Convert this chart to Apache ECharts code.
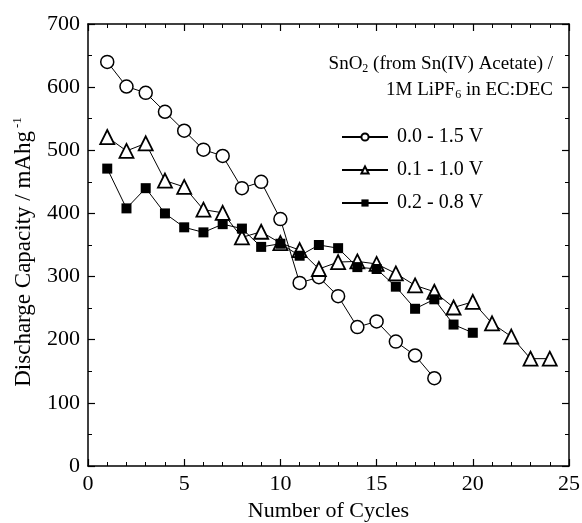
<!DOCTYPE html>
<html>
<head>
<meta charset="utf-8">
<script src="https://cdn.jsdelivr.net/npm/echarts@6/dist/echarts.min.js"></script>
<style>
  html, body { margin: 0; padding: 0; background: #fff; }
  #chart { width: 582px; height: 523px; }
</style>
</head>
<body>
<div id="chart"></div>
<script>
// cycle numbers
const cycles = [1,2,3,4,5,6,7,8,9,10,11,12,13,14,15,16,17,18,19,20,21,22,23,24];
// discharge capacity, mAh/g
const cap15 = [640,601,591,561,531,501,491,440,450,391,290,299,269,220,229,197,175,139];
const cap10 = [521,499,511,452,442,406,401,362,371,353,342,312,323,324,320,305,286,276,251,260,226,205,170,170];
const cap08 = [471,408,440,400,378,370,383,376,347,352,333,350,345,315,312,284,249,264,224,211];
const seriesNames = ['0.0 - 1.5 V', '0.1 - 1.0 V', '0.2 - 0.8 V'];

const font = 'Liberation Serif, Times New Roman, serif';

function pairs(vals) {
  return vals.map((v, i) => [cycles[i], v]);
}

const chart = echarts.init(document.getElementById('chart'));

function frameAxis(extra, minorSplit) {
  return Object.assign({
    type: 'value',
    axisLine: { show: true, onZero: false, lineStyle: { color: '#000', width: 1.5 } },
    axisTick: { show: true, inside: true, length: 7, lineStyle: { color: '#000', width: 1.2 } },
    minorTick: { show: true, splitNumber: minorSplit, length: 4, lineStyle: { color: '#000', width: 1 } },
    splitLine: { show: false }
  }, extra);
}

const subRich = { sub: { fontFamily: font, fontSize: 12, verticalAlign: 'bottom', padding: [10, 0, 0, 0] } };

chart.setOption({
  animation: false,
  backgroundColor: '#fff',
  title: [
    {
      text: 'SnO{sub|2} (from Sn(IV) Acetate) /',
      right: 24, top: 48,
      textStyle: { fontFamily: font, fontSize: 19, fontWeight: 'normal', color: '#000', rich: subRich }
    },
    {
      text: '1M LiPF{sub|6} in EC:DEC',
      right: 24, top: 74,
      textStyle: { fontFamily: font, fontSize: 19, fontWeight: 'normal', color: '#000', rich: subRich }
    }
  ],
  legend: {
    orient: 'vertical',
    left: 336, top: 122,
    itemWidth: 46, itemHeight: 9, itemGap: 13,
    textStyle: { fontFamily: font, fontSize: 20, color: '#000', padding: [0, 0, 0, 4] },
    data: seriesNames
  },
  grid: { left: 88, right: 13, top: 24, bottom: 57, outerBoundsMode: 'none' },
  xAxis: [
    frameAxis({
      min: 0, max: 25, interval: 5, position: 'bottom',
      axisLabel: { fontFamily: font, fontSize: 22, color: '#000', margin: 7 },
      name: 'Number of Cycles', nameLocation: 'middle', nameGap: 34,
      nameTextStyle: { fontFamily: font, fontSize: 22, color: '#000' }
    }, 5),
    frameAxis({ min: 0, max: 25, interval: 5, position: 'top', axisLabel: { show: false } }, 5)
  ],
  yAxis: [
    frameAxis({
      min: 0, max: 700, interval: 100, position: 'left',
      axisLabel: { fontFamily: font, fontSize: 22, color: '#000', margin: 8, padding: [0, 0, 6, 0] },
      name: 'Discharge Capacity / mAhg{sup|-1}', nameLocation: 'middle', nameGap: 52,
      nameTextStyle: {
        fontFamily: font, fontSize: 23, color: '#000', padding: [0, 14, 0, 0],
        rich: { sup: { fontFamily: font, fontSize: 13, verticalAlign: 'top', padding: [0, 0, 12, 3] } }
      }
    }, 2),
    frameAxis({ min: 0, max: 700, interval: 100, position: 'right', axisLabel: { show: false } }, 2)
  ],
  series: [
    {
      name: seriesNames[0], type: 'line', data: pairs(cap15),
      symbol: 'circle', symbolSize: 13,
      lineStyle: { color: '#000', width: 1 },
      itemStyle: { color: '#fff', borderColor: '#000', borderWidth: 1.5 }
    },
    {
      name: seriesNames[1], type: 'line', data: pairs(cap10),
      symbol: 'triangle', symbolSize: 14,
      lineStyle: { color: '#000', width: 1 },
      itemStyle: { color: '#fff', borderColor: '#000', borderWidth: 1.8 }
    },
    {
      name: seriesNames[2], type: 'line', data: pairs(cap08),
      symbol: 'rect', symbolSize: 10,
      lineStyle: { color: '#000', width: 1 },
      itemStyle: { color: '#000', borderColor: '#000', borderWidth: 0 }
    }
  ]
});
</script>
</body>
</html>
